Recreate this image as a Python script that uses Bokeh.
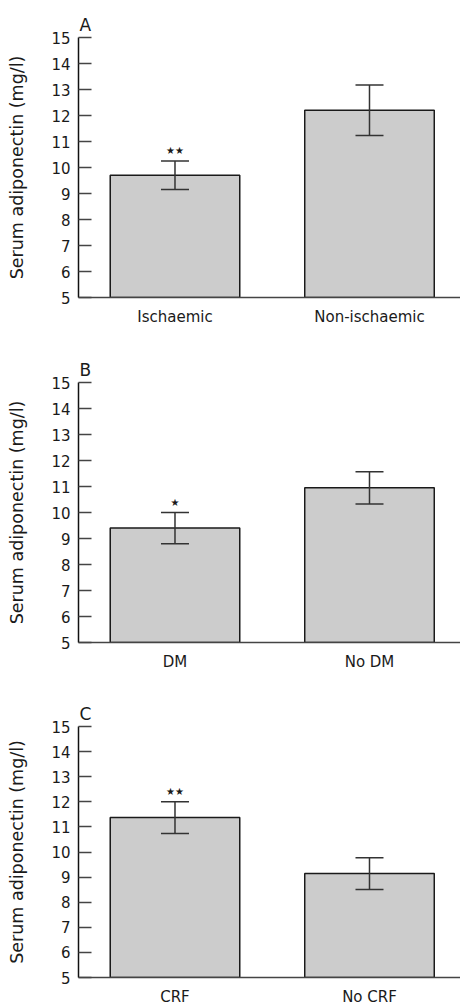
from bokeh.plotting import figure
from bokeh.models import Range1d, FixedTicker, ColumnDataSource, Whisker, TeeHead
from bokeh.layouts import column
from bokeh.embed import file_html
from bokeh.resources import INLINE
from bokeh.core.properties import value

# ---- data ----
panel_letters = ["A", "B", "C"]

groups_a = ["Ischaemic", "Non-ischaemic"]
means_a = [9.7, 12.2]
errs_a = [0.55, 0.97]
stars_a = ["★★", ""]

groups_b = ["DM", "No DM"]
means_b = [9.4, 10.95]
errs_b = [0.6, 0.62]
stars_b = ["★", ""]

groups_c = ["CRF", "No CRF"]
means_c = [11.37, 9.14]
errs_c = [0.63, 0.63]
stars_c = ["★★", ""]

y_ticks = [5, 6, 7, 8, 9, 10, 11, 12, 13, 14, 15]
y_label = "Serum adiponectin (mg/l)"

FONT = "DejaVu Sans"
TXT = "#1a1a1a"
X_START, X_END = -0.4961, 1.4679


def make_panel(letter, groups, means, errs, stars, height, top, bottom):
    xs = list(range(len(groups)))
    src = ColumnDataSource(dict(
        x=xs, top=means,
        upper=[m + e for m, e in zip(means, errs)],
        lower=[m - e for m, e in zip(means, errs)],
        stars=stars,
    ))
    p = figure(width=460, height=height, output_backend="svg", toolbar_location=None,
               x_range=Range1d(X_START, X_END), y_range=Range1d(y_ticks[0], y_ticks[-1]),
               min_border_left=78, min_border_right=0, min_border_top=top,
               min_border_bottom=bottom)
    p.outline_line_color = None
    p.grid.visible = False
    p.background_fill_color = None
    p.border_fill_color = None

    p.vbar(x="x", top="top", bottom=y_ticks[0], width=0.666, source=src,
           fill_color="#cccccc", line_color="#1a1a1a", line_width=1.5)

    w = Whisker(base="x", upper="upper", lower="lower", source=src, dimension="height",
                line_color="#333333", line_width=1.5, level="overlay",
                upper_head=TeeHead(size=28, line_color="#333333", line_width=1.5),
                lower_head=TeeHead(size=28, line_color="#333333", line_width=1.5))
    p.add_layout(w)

    p.text(x="x", y="upper", text="stars", source=src, text_align="center",
           text_baseline="bottom", y_offset=-5, text_font=value(FONT),
           text_font_size="10px", text_color=TXT)

    # title letter
    p.title.text = letter
    p.title.align = "left"
    p.title.text_font = FONT
    p.title.text_font_size = "17px"
    p.title.text_font_style = "normal"
    p.title.text_color = TXT
    p.title.standoff = 6
    p.title.offset = 1

    # y axis
    ya = p.yaxis[0]
    ya.ticker = FixedTicker(ticks=y_ticks)
    ya.axis_label = y_label
    ya.axis_label_text_font = FONT
    ya.axis_label_text_font_size = "17.5px"
    ya.axis_label_text_font_style = "normal"
    ya.axis_label_text_color = TXT
    ya.axis_label_standoff = 21
    ya.major_label_text_font = FONT
    ya.major_label_text_font_size = "15px"
    ya.major_label_text_color = TXT
    ya.major_label_standoff = 8
    ya.major_tick_in = 13
    ya.major_tick_out = 0
    ya.major_tick_line_color = "#444444"
    ya.major_tick_line_width = 1.5
    ya.minor_tick_line_color = None
    ya.axis_line_color = "#111111"
    ya.axis_line_width = 1.5

    # x axis
    xa = p.xaxis[0]
    xa.ticker = FixedTicker(ticks=xs)
    xa.major_label_overrides = {i: g for i, g in zip(xs, groups)}
    xa.major_label_text_font = FONT
    xa.major_label_text_font_size = "15px"
    xa.major_label_text_color = TXT
    xa.major_label_standoff = 4
    xa.major_tick_line_color = None
    xa.minor_tick_line_color = None
    xa.axis_line_color = "#444444"
    xa.axis_line_width = 1.5
    return p


pa = make_panel(panel_letters[0], groups_a, means_a, errs_a, stars_a, 340, 37, 43)
pb = make_panel(panel_letters[1], groups_b, means_b, errs_b, stars_b, 344, 42, 42)
pc = make_panel(panel_letters[2], groups_c, means_c, errs_c, stars_c, 324, 42, 21)

layout = column(pa, pb, pc, spacing=0)
open("out.html", "w").write(file_html(layout, INLINE))
